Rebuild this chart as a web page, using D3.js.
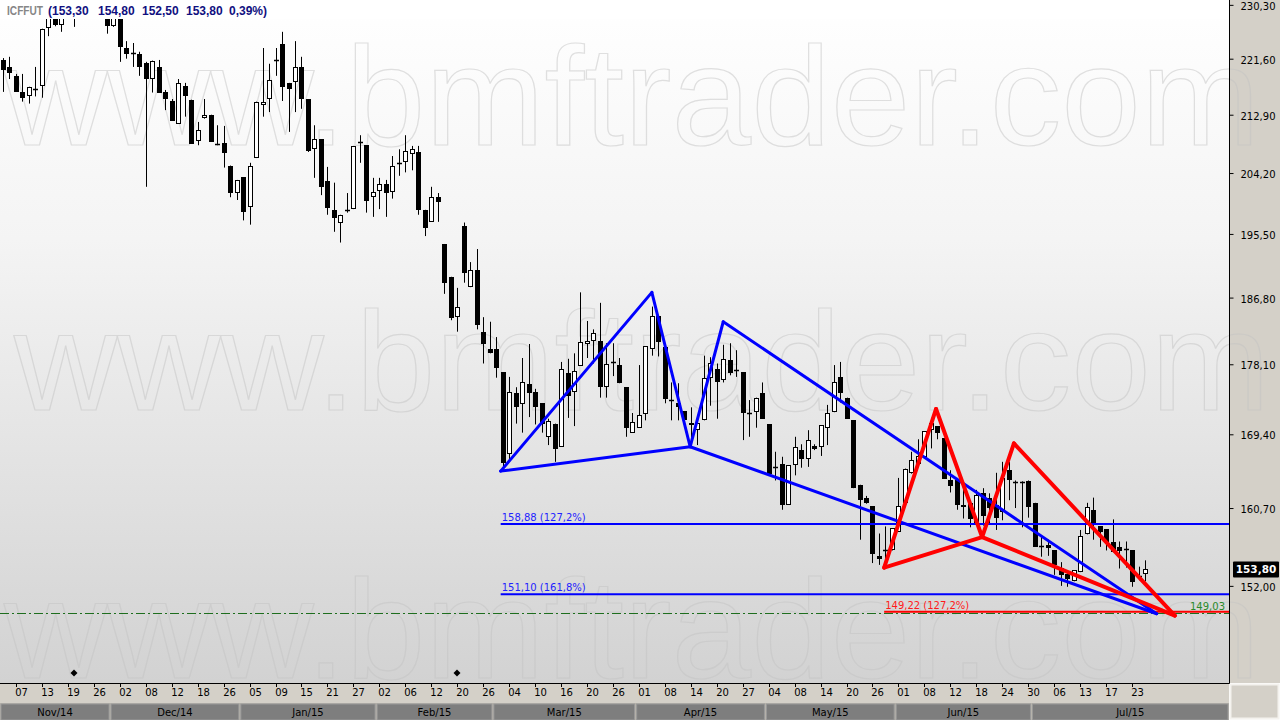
<!DOCTYPE html>
<html><head><meta charset="utf-8">
<script src="https://cdn.jsdelivr.net/npm/d3@7"></script>
<style>html,body{margin:0;padding:0;background:#fff;overflow:hidden}</style>
</head><body><svg id="c" width="1280" height="720" xmlns="http://www.w3.org/2000/svg"></svg>
<script>
// ---------- DATA ----------
const dates = [
"2014-11-05","2014-11-06","2014-11-07","2014-11-10","2014-11-11","2014-11-12","2014-11-13","2014-11-14","2014-11-17","2014-11-18",
"2014-11-19","2014-11-21","2014-11-24","2014-11-25","2014-11-26","2014-11-27","2014-11-28","2014-12-01","2014-12-02","2014-12-03",
"2014-12-04","2014-12-05","2014-12-08","2014-12-09","2014-12-10","2014-12-11","2014-12-12","2014-12-15","2014-12-16","2014-12-17",
"2014-12-18","2014-12-19","2014-12-22","2014-12-23","2014-12-26","2014-12-29","2014-12-30","2015-01-02","2015-01-05","2015-01-06",
"2015-01-07","2015-01-08","2015-01-09","2015-01-12","2015-01-13","2015-01-14","2015-01-15","2015-01-16","2015-01-19","2015-01-20",
"2015-01-21","2015-01-22","2015-01-23","2015-01-26","2015-01-27","2015-01-28","2015-01-29","2015-01-30","2015-02-02","2015-02-03",
"2015-02-04","2015-02-05","2015-02-06","2015-02-09","2015-02-10","2015-02-11","2015-02-12","2015-02-13","2015-02-18","2015-02-19",
"2015-02-20","2015-02-23","2015-02-24","2015-02-25","2015-02-26","2015-02-27","2015-03-02","2015-03-03","2015-03-04","2015-03-05",
"2015-03-06","2015-03-09","2015-03-10","2015-03-11","2015-03-12","2015-03-13","2015-03-16","2015-03-17","2015-03-18","2015-03-19",
"2015-03-20","2015-03-23","2015-03-24","2015-03-25","2015-03-26","2015-03-27","2015-03-30","2015-03-31","2015-04-01","2015-04-02",
"2015-04-06","2015-04-07","2015-04-08","2015-04-09","2015-04-10","2015-04-13","2015-04-14","2015-04-15","2015-04-16","2015-04-17",
"2015-04-20","2015-04-22","2015-04-23","2015-04-24","2015-04-27","2015-04-28","2015-04-29","2015-04-30","2015-05-04","2015-05-05",
"2015-05-06","2015-05-07","2015-05-08","2015-05-11","2015-05-12","2015-05-13","2015-05-14","2015-05-15","2015-05-18","2015-05-19",
"2015-05-20","2015-05-21","2015-05-22","2015-05-25","2015-05-26","2015-05-27","2015-05-28","2015-05-29","2015-06-01","2015-06-02",
"2015-06-03","2015-06-05","2015-06-08","2015-06-09","2015-06-10","2015-06-11","2015-06-12","2015-06-15","2015-06-16","2015-06-17",
"2015-06-18","2015-06-19","2015-06-22","2015-06-23","2015-06-24","2015-06-25","2015-06-26","2015-06-29","2015-06-30","2015-07-01",
"2015-07-02","2015-07-03","2015-07-06","2015-07-07","2015-07-08","2015-07-10","2015-07-13","2015-07-14","2015-07-15","2015-07-16",
"2015-07-17","2015-07-20","2015-07-21","2015-07-22","2015-07-23","2015-07-24","2015-07-27"];

const open = [
221.4,220.3,218.9,216.4,215.8,216.9,217.3,226.5,228.7,227.0,
228.8,229.2,229.5,229.8,229.2,229.5,229.2,226.8,228.8,223.3,
222.5,222.4,220.9,218.4,220.3,216.4,215.0,211.5,217.3,215.2,
208.9,212.4,212.9,208.5,208.6,205.3,201.3,203.6,199.3,206.4,
214.4,215.3,221.4,224.0,217.8,218.0,220.3,215.3,207.7,209.2,
203.0,198.9,197.1,198.9,199.0,208.6,208.3,200.7,201.6,202.6,
201.4,205.7,205.8,207.0,207.3,198.9,197.2,200.7,194.1,189.6,
184.2,196.6,188.2,190.5,182.3,180.1,180.1,177.1,167.0,174.5,
173.1,175.6,174.6,173.2,169.1,170.7,167.9,177.0,174.6,177.9,
180.7,181.1,181.1,175.2,178.4,178.0,175.2,169.6,170.2,171.9,
180.1,184.4,180.3,173.6,173.2,172.2,170.8,169.9,171.1,176.4,
177.5,176.1,178.6,177.4,177.1,172.0,172.1,174.5,170.6,165.5,
165.9,161.1,165.7,167.5,166.4,168.0,167.9,170.2,172.1,176.5,
173.9,171.1,163.4,161.9,160.9,155.3,155.8,155.9,158.0,161.3,
164.8,165.9,166.7,169.9,170.4,168.9,163.9,163.9,160.8,161.3,
158.9,162.4,161.8,161.0,160.3,165.1,163.7,163.7,163.8,161.3,
156.4,156.5,155.9,153.9,153.3,152.5,153.5,157.7,160.5,158.6,
158.3,156.8,156.3,156.1,155.9,153.1,153.3];

const high = [
221.7,221.9,219.2,219.2,217.2,220.3,226.4,229.5,229.5,229.2,
230.6,230.1,230.8,230.6,230.4,230.3,229.8,229.5,229.5,224.4,
224.1,222.7,221.1,221.3,221.4,216.7,215.3,218.4,217.8,215.2,
211.8,215.3,212.9,211.3,211.2,205.3,203.2,203.6,205.7,214.9,
223.3,220.8,223.3,225.9,217.8,224.4,221.9,215.3,211.3,209.2,
205.1,202.8,198.2,201.3,208.2,209.8,208.3,203.5,203.5,203.2,
206.7,207.7,209.8,208.2,208.2,198.9,202.2,201.3,194.1,189.6,
188.1,197.1,191.6,193.4,184.2,183.6,181.6,177.1,176.5,175.2,
178.9,180.7,175.0,173.2,171.3,170.7,178.4,178.8,179.5,187.5,
183.7,182.6,186.1,180.8,180.8,178.9,175.2,172.0,178.0,180.4,
185.6,184.4,180.3,175.8,175.7,172.2,172.7,170.8,179.2,179.0,
178.2,180.6,180.8,179.9,177.1,173.6,173.9,175.8,170.6,167.3,
166.7,165.7,169.1,168.2,169.9,168.2,170.5,173.0,178.0,178.4,
173.9,171.1,163.4,162.1,160.9,157.8,158.6,158.4,164.2,165.3,
167.3,168.8,169.8,171.4,170.4,168.9,165.1,164.2,162.8,161.3,
162.8,163.0,162.4,164.8,166.1,166.1,163.9,163.8,163.9,161.3,
157.6,157.1,155.9,154.6,153.6,153.7,158.2,161.3,161.9,158.6,
158.3,159.4,156.9,156.9,155.9,154.1,154.8];

const low = [
216.4,218.4,216.4,214.9,214.6,215.7,215.5,225.2,226.8,225.9,
228.1,226.7,228.3,228.5,228.3,228.1,225.6,226.7,221.1,221.6,
220.3,218.9,202.2,216.3,216.3,213.6,212.0,211.5,212.6,208.5,
208.3,212.3,208.8,208.3,205.0,200.7,200.3,197.4,196.8,206.4,
212.6,213.3,218.9,215.0,210.3,213.3,213.8,207.3,203.5,201.0,
198.2,195.8,194.3,198.5,199.0,205.7,198.5,197.9,199.0,197.9,
200.5,203.8,204.3,204.6,198.2,195.2,197.2,197.2,187.3,183.8,
182.3,188.8,188.2,182.6,178.2,179.5,176.4,165.1,166.3,170.7,
169.6,171.5,170.6,169.6,168.1,166.1,167.9,171.4,170.4,177.9,
178.9,178.2,173.9,173.9,176.6,175.7,169.1,169.6,170.2,171.1,
179.2,179.1,173.2,171.1,171.1,171.1,167.9,168.1,171.1,172.9,
171.3,175.8,176.7,176.5,168.7,169.1,170.2,171.3,164.7,163.9,
160.5,161.1,164.5,165.4,165.5,167.5,166.8,168.1,172.1,173.3,
171.3,163.0,157.1,161.2,154.5,154.3,154.1,155.9,158.0,161.3,
164.7,165.9,166.7,167.7,168.8,164.1,162.5,160.5,159.5,158.5,
158.7,158.7,158.9,158.2,159.3,161.6,160.7,158.5,159.6,156.3,
155.2,155.3,153.2,152.0,151.9,152.5,153.5,157.7,157.1,156.3,
155.9,155.7,153.9,154.0,151.9,152.6,152.5];

const close = [
219.8,219.4,216.4,215.5,217.2,216.7,226.4,228.7,227.0,228.3,
229.8,228.5,230.1,229.2,229.5,228.8,226.8,228.8,223.5,222.4,
222.4,220.3,218.4,221.3,216.3,215.3,212.0,217.8,215.8,208.5,
210.6,212.9,208.8,208.3,207.2,201.3,203.2,198.6,205.3,214.9,
214.9,218.3,221.3,217.2,216.9,220.3,215.3,207.4,209.2,202.2,
199.2,197.8,198.2,198.8,208.2,208.8,200.2,201.4,202.6,201.3,
205.3,205.6,207.4,207.7,198.9,196.3,200.7,200.0,188.8,184.1,
185.5,190.1,190.5,183.2,180.7,179.5,177.6,166.0,174.6,172.7,
175.8,174.5,172.7,170.6,171.0,167.6,177.5,174.1,177.2,180.9,
181.1,182.1,175.2,178.1,178.3,175.7,170.2,170.9,171.8,180.4,
184.4,180.9,173.7,173.5,172.8,171.1,170.5,170.8,176.4,178.2,
175.9,178.8,177.0,177.3,172.0,171.9,173.9,171.3,164.7,165.4,
161.0,165.7,167.9,166.4,168.7,167.6,170.5,172.0,175.8,174.5,
171.3,163.0,161.6,161.3,155.5,155.0,155.9,158.4,160.9,165.3,
166.3,166.8,169.8,170.8,169.6,164.1,163.2,161.1,161.1,159.5,
162.2,159.8,160.7,159.6,164.2,163.9,163.6,163.6,160.8,156.3,
156.3,156.2,154.3,153.2,152.7,153.7,157.5,160.8,158.9,158.0,
156.8,155.7,155.8,156.1,152.4,153.0,153.8];

const priceTicks = [152.00,160.70,169.40,178.10,186.80,195.50,204.20,212.90,221.60,230.30];
const tickDates = ["2014-11-07","2014-11-13","2014-11-19","2014-11-26","2014-12-02","2014-12-08","2014-12-12","2014-12-18","2014-12-26",
"2015-01-05","2015-01-09","2015-01-15","2015-01-21","2015-01-27","2015-02-02","2015-02-06","2015-02-12","2015-02-20","2015-02-26",
"2015-03-04","2015-03-10","2015-03-16","2015-03-20","2015-03-26","2015-04-01","2015-04-08","2015-04-14","2015-04-20","2015-04-27",
"2015-05-04","2015-05-08","2015-05-14","2015-05-20","2015-05-26","2015-06-01","2015-06-08","2015-06-12","2015-06-18","2015-06-24",
"2015-06-30","2015-07-06","2015-07-13","2015-07-17","2015-07-23"];
const monthKeys = ["2014-11","2014-12","2015-01","2015-02","2015-03","2015-04","2015-05","2015-06","2015-07"];
const monthLabels = ["Nov/14","Dec/14","Jan/15","Feb/15","Mar/15","Apr/15","May/15","Jun/15","Jul/15"];
const markerDates = ["2014-11-19","2015-02-19"];

const headerSymbol = "ICFFUT";
const headerValues = ["(153,30","154,80","152,50","153,80","0,39%)"];
const lastPrice = 153.80;

// harmonic pattern vertices (bar index, price)
const bluePatIdx   = [76.7, 100.0, 105.9, 111.0, 177.8];
const bluePatPrice = [165.0, 187.5, 167.9, 183.6, 149.0];
const redPatIdx    = [135.8, 143.8, 150.9, 155.8, 180.6];
const redPatPrice  = [154.0, 172.5, 157.4, 168.3, 148.8];
const patEdges = [[0,1],[1,2],[0,2],[2,3],[3,4],[2,4]];

// projection levels
const levelPrices = [158.88, 151.10, 149.22];
const levelLabels = ["158,88 (127,2%)", "151,10 (161,8%)", "149,22 (127,2%)"];
const levelStartIdx = [76.7, 76.7, 135.8];
const levelColors = ["#0000ff", "#0000ff", "#ff0000"];
const refPrice = 149.03;

// ---------- DRAW ----------
const W = 1280, H = 720, plotR = 1229, plotB = 683;
const svg = d3.select("#c");
const n = dates.length;
const x = d3.scaleLinear().domain([0, n - 1]).range([3, 1145]);
const y = d3.scaleLog().domain([141.8, 231.1]).range([plotB, 0]);
const idx = d => dates.indexOf(d);
const fmt = v => d3.format(".2f")(v).replace(".", ",");
const AX = "'DejaVu Sans', Verdana, sans-serif";

const defs = svg.append("defs");
const grad = defs.append("linearGradient").attr("id", "bg").attr("x1", 0).attr("y1", 0).attr("x2", 0).attr("y2", 1);
grad.append("stop").attr("offset", "0%").attr("stop-color", "#ffffff");
grad.append("stop").attr("offset", "35%").attr("stop-color", "#f4f4f4");
grad.append("stop").attr("offset", "100%").attr("stop-color", "#d2d2d2");
defs.append("clipPath").attr("id", "plotclip").append("rect").attr("x", 0).attr("y", 0).attr("width", plotR).attr("height", plotB);
defs.append("clipPath").attr("id", "wmclip").append("rect").attr("x", 0).attr("y", 0).attr("width", W).attr("height", plotB);

// backgrounds
svg.append("rect").attr("x", 0).attr("y", 0).attr("width", plotR).attr("height", plotB).attr("fill", "url(#bg)");
svg.append("rect").attr("x", plotR).attr("y", 0).attr("width", W - plotR).attr("height", plotB).attr("fill", "#d4d0c8");

// watermark (single outlined text per row)
const wm = svg.append("g").attr("clip-path", "url(#wmclip)");
[[4, 145], [14, 410], [4, 678]].forEach(([tx, ty]) => {
  wm.append("text").attr("x", tx).attr("y", ty).text("www.bmftrader.com")
    .attr("font-family", "'Liberation Sans', Arial, sans-serif").attr("font-size", 141)
    .attr("textLength", 1256).attr("lengthAdjust", "spacingAndGlyphs")
    .attr("fill", "none").attr("stroke", "#c4c4c4").attr("stroke-width", 1.2).attr("opacity", 0.5);
});

// candles
const cg = svg.append("g").attr("clip-path", "url(#plotclip)");
d3.range(n).forEach(i => {
  const cx = Math.round(x(i));
  const o = open[i], c = close[i];
  cg.append("line").attr("x1", cx + 0.5).attr("x2", cx + 0.5)
    .attr("y1", y(high[i])).attr("y2", y(low[i])).attr("stroke", "#000").attr("stroke-width", 1);
  const top = y(Math.max(o, c)), bot = y(Math.min(o, c));
  if (bot - top < 1.5) {
    cg.append("line").attr("x1", cx - 2).attr("x2", cx + 3).attr("y1", Math.round(top) + 0.5).attr("y2", Math.round(top) + 0.5)
      .attr("stroke", "#000").attr("stroke-width", 1.5);
  } else if (c >= o) {
    cg.append("rect").attr("x", cx - 1.5).attr("y", Math.round(top) + 0.5).attr("width", 4)
      .attr("height", Math.max(1, Math.round(bot) - Math.round(top) - 1)).attr("fill", "#fff").attr("stroke", "#000").attr("stroke-width", 1);
  } else {
    cg.append("rect").attr("x", cx - 2).attr("y", Math.round(top)).attr("width", 5)
      .attr("height", Math.max(1, Math.round(bot) - Math.round(top))).attr("fill", "#000");
  }
});

// header band
svg.append("rect").attr("x", 0).attr("y", 0).attr("width", plotR).attr("height", 19).attr("fill", "#fff");
const HF = "'Liberation Sans', Arial, sans-serif";
svg.append("text").attr("x", 7).attr("y", 15).attr("font-family", HF).attr("font-size", 12).attr("font-weight", "bold")
  .attr("textLength", 36).attr("lengthAdjust", "spacingAndGlyphs").attr("fill", "#868686").text(headerSymbol);
const hx = [48, 98, 142, 186, 229];
headerValues.forEach((v, k) => svg.append("text").attr("x", hx[k]).attr("y", 15).attr("font-family", HF)
  .attr("font-size", 12).attr("font-weight", "bold").attr("fill", "#101080").text(v));

// reference dash-dot line (green)
svg.append("line").attr("x1", 0).attr("x2", plotR).attr("y1", Math.round(y(refPrice)) + 0.5).attr("y2", Math.round(y(refPrice)) + 0.5)
  .attr("stroke", "#1e6e1e").attr("stroke-width", 1).attr("stroke-dasharray", "9,3,2,3");
svg.append("text").attr("x", plotR - 4).attr("y", y(refPrice) - 3).attr("text-anchor", "end")
  .attr("font-family", AX).attr("font-size", 10).attr("fill", "#2a8a2a").text(fmt(refPrice));

// projection levels
levelPrices.forEach((p, k) => {
  const yy = y(p);
  svg.append("line").attr("x1", x(levelStartIdx[k])).attr("x2", plotR).attr("y1", yy).attr("y2", yy)
    .attr("stroke", levelColors[k]).attr("stroke-width", 2);
  svg.append("text").attr("x", x(levelStartIdx[k]) + 1).attr("y", yy - 3)
    .attr("font-family", AX).attr("font-size", 10)
    .attr("fill", k < 2 ? "#2323ff" : "#ff1a1a").text(levelLabels[k]);
});

// patterns
function drawPattern(ix, pr, color, w) {
  const g = svg.append("g").attr("clip-path", "url(#plotclip)");
  patEdges.forEach(([a, b]) => {
    g.append("line").attr("x1", x(ix[a])).attr("y1", y(pr[a])).attr("x2", x(ix[b])).attr("y2", y(pr[b]))
      .attr("stroke", color).attr("stroke-width", w).attr("stroke-linecap", "round");
  });
}
drawPattern(bluePatIdx, bluePatPrice, "#0000ff", 3);
drawPattern(redPatIdx, redPatPrice, "#ff0000", 4);

// markers
markerDates.forEach(d => {
  const mx = Math.round(x(idx(d))) + 6, my = 673;
  svg.append("path").attr("d", `M${mx},${my - 3.5}L${mx + 3.5},${my}L${mx},${my + 3.5}L${mx - 3.5},${my}Z`).attr("fill", "#000");
});

// right price axis
svg.append("line").attr("x1", plotR + 0.5).attr("x2", plotR + 0.5).attr("y1", 0).attr("y2", plotB).attr("stroke", "#000");
const yAxis = d3.axisRight(y).tickValues(priceTicks).tickSize(4).tickPadding(7).tickFormat(fmt);
const ya = svg.append("g").attr("transform", `translate(${plotR + 0.5},0)`).call(yAxis);
ya.select(".domain").remove();
ya.selectAll("text").attr("font-family", AX).attr("font-size", 10).attr("fill", "#000").attr("dy", "0.45em");
ya.selectAll("line").attr("stroke", "#000");

// last price box
const ly = y(lastPrice);
svg.append("rect").attr("x", plotR + 4).attr("y", ly - 8).attr("width", 46).attr("height", 16).attr("rx", 1).attr("fill", "#000");
svg.append("text").attr("x", plotR + 27).attr("y", ly + 4).attr("text-anchor", "middle")
  .attr("font-family", AX).attr("font-size", 10.5).attr("font-weight", "bold").attr("fill", "#fff").text(fmt(lastPrice));

// bottom date axis
svg.append("rect").attr("x", 0).attr("y", plotB).attr("width", plotR).attr("height", 20).attr("fill", "#d4d0c8");
svg.append("line").attr("x1", 0).attr("x2", plotR + 1).attr("y1", plotB + 0.5).attr("y2", plotB + 0.5).attr("stroke", "#000");
const xa = svg.append("g");
tickDates.forEach(d => {
  const tx = Math.round(x(idx(d))) + 0.5;
  xa.append("line").attr("x1", tx).attr("x2", tx).attr("y1", plotB).attr("y2", plotB + 4).attr("stroke", "#000");
  xa.append("text").attr("x", tx + 5).attr("y", plotB + 13).attr("text-anchor", "middle")
    .attr("font-family", AX).attr("font-size", 10).attr("fill", "#000").text(d.slice(8, 10));
});

// month bar
svg.append("rect").attr("x", 0).attr("y", 703).attr("width", plotR).attr("height", 17).attr("fill", "#b8b4ac");
monthKeys.forEach((m, k) => {
  const first = dates.findIndex(d => d.startsWith(m));
  const next = k < monthKeys.length - 1 ? dates.findIndex(d => d.startsWith(monthKeys[k + 1])) : -1;
  const x0 = k === 0 ? 0 : x(first - 0.5);
  const x1 = next < 0 ? plotR : x(next - 0.5);
  svg.append("rect").attr("x", x0 + 1).attr("y", 704).attr("width", x1 - x0 - 2).attr("height", 16)
    .attr("fill", "#7e7e7e").attr("stroke", "#9a9a9a").attr("stroke-width", 1);
  svg.append("text").attr("x", (x0 + x1) / 2).attr("y", 716).attr("text-anchor", "middle")
    .attr("font-family", AX).attr("font-size", 10).attr("fill", "#000").text(monthLabels[k]);
});

// bottom-right corner
svg.append("rect").attr("x", plotR + 1.5).attr("y", plotB + 1.5).attr("width", W - plotR - 3).attr("height", H - plotB - 3)
  .attr("fill", "#d4d0c8").attr("stroke", "#f4f2ee").attr("stroke-width", 2);
</script></body></html>
